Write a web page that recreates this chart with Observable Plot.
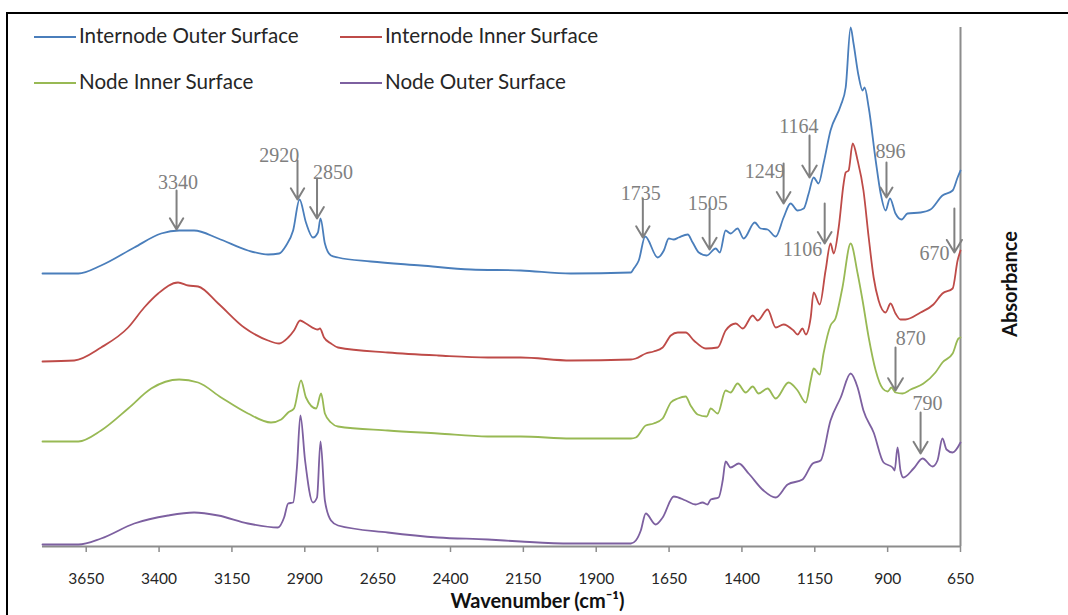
<!DOCTYPE html>
<html>
<head>
<meta charset="utf-8">
<script src="https://cdn.jsdelivr.net/npm/d3@7"></script>
<script src="https://cdn.jsdelivr.net/npm/@observablehq/plot@0.6"></script>
<style>
html, body { margin:0; padding:0; width:1068px; height:615px; overflow:hidden; background:#fff; }
#frame { position:absolute; left:6px; top:12px; width:1200px; height:800px; border:2px solid #000; box-sizing:border-box; }
#chart { position:absolute; left:0; top:0; }
.leg { position:absolute; font-family: Lato, "Open Sans", sans-serif; font-size:20.6px; color:#262626; line-height:22px; white-space:nowrap; }
.leg span.sw { display:inline-block; width:42px; height:2px; vertical-align:middle; margin-right:3px; position:relative; top:-1px; }
</style>
</head>
<body>
<div id="frame"></div>
<div id="chart"></div>
<div id="legend"></div>
<script>
// ---- Data (wavenumber cm^-1, absorbance in arbitrary offset units) ----
const seriesNames = ["Internode Outer Surface", "Internode Inner Surface", "Node Inner Surface", "Node Outer Surface"];
const seriesColors = ["#4A7EBB", "#BE4B48", "#98B954", "#7D60A0"];

const internodeOuter = [[3800,0.546],[3677,0.546],[3599,0.562],[3485,0.598],[3393,0.626],[3331,0.632],[3280,0.632],[3197,0.616],[3095,0.592],[3026,0.584],[2988,0.586],[2964,0.602],[2940,0.632],[2918,0.694],[2896,0.648],[2872,0.618],[2855,0.628],[2846,0.656],[2831,0.606],[2810,0.582],[2786,0.578],[2673,0.570],[2501,0.562],[2330,0.554],[2159,0.552],[1987,0.546],[1781,0.548],[1771,0.556],[1754,0.572],[1732,0.620],[1689,0.578],[1668,0.592],[1651,0.616],[1634,0.614],[1617,0.618],[1586,0.624],[1569,0.608],[1548,0.588],[1521,0.582],[1490,0.596],[1476,0.588],[1456,0.632],[1439,0.626],[1415,0.636],[1394,0.616],[1356,0.648],[1336,0.636],[1312,0.634],[1284,0.620],[1257,0.658],[1233,0.686],[1209,0.672],[1188,0.676],[1171,0.706],[1154,0.738],[1137,0.726],[1120,0.766],[1096,0.832],[1061,0.882],[1044,0.918],[1027,1.038],[1017,1.006],[1000,0.942],[986,0.912],[979,0.918],[965,0.878],[941,0.772],[924,0.706],[907,0.672],[892,0.696],[873,0.666],[852,0.654],[832,0.666],[787,0.668],[753,0.674],[712,0.702],[677,0.712],[660,0.738],[650,0.752]];

const internodeInner = [[3800,0.370],[3691,0.372],[3599,0.398],[3506,0.438],[3451,0.478],[3403,0.506],[3335,0.528],[3300,0.522],[3266,0.520],[3197,0.486],[3108,0.438],[3026,0.412],[2988,0.406],[2957,0.418],[2937,0.432],[2916,0.452],[2896,0.446],[2855,0.434],[2848,0.436],[2834,0.418],[2810,0.406],[2786,0.398],[2615,0.388],[2443,0.382],[2272,0.378],[2159,0.378],[1987,0.372],[1781,0.374],[1764,0.376],[1730,0.386],[1703,0.390],[1672,0.398],[1644,0.422],[1620,0.428],[1593,0.428],[1565,0.412],[1524,0.396],[1483,0.398],[1456,0.432],[1421,0.446],[1397,0.436],[1363,0.462],[1346,0.452],[1312,0.474],[1284,0.438],[1257,0.444],[1223,0.432],[1209,0.424],[1192,0.436],[1181,0.424],[1164,0.458],[1154,0.508],[1133,0.484],[1113,0.552],[1096,0.606],[1085,0.586],[1068,0.638],[1051,0.726],[1044,0.748],[1034,0.752],[1020,0.806],[1003,0.772],[983,0.712],[965,0.618],[948,0.538],[931,0.492],[907,0.468],[890,0.486],[873,0.466],[856,0.454],[839,0.454],[787,0.468],[743,0.484],[712,0.506],[677,0.516],[660,0.572],[650,0.592]];

const nodeInner = [[3800,0.210],[3677,0.210],[3599,0.232],[3506,0.276],[3427,0.316],[3331,0.334],[3266,0.328],[3187,0.298],[3095,0.266],[3016,0.248],[2981,0.254],[2957,0.268],[2937,0.276],[2913,0.332],[2896,0.298],[2861,0.276],[2844,0.306],[2831,0.266],[2810,0.248],[2786,0.240],[2615,0.232],[2443,0.226],[2272,0.220],[2159,0.220],[1987,0.216],[1781,0.216],[1764,0.218],[1730,0.242],[1703,0.246],[1672,0.256],[1644,0.288],[1620,0.296],[1593,0.300],[1576,0.282],[1552,0.264],[1521,0.260],[1507,0.276],[1483,0.266],[1456,0.312],[1439,0.308],[1415,0.326],[1387,0.308],[1363,0.320],[1343,0.306],[1312,0.316],[1284,0.296],[1240,0.328],[1209,0.312],[1181,0.288],[1164,0.332],[1154,0.356],[1133,0.344],[1120,0.386],[1096,0.442],[1079,0.456],[1055,0.518],[1027,0.606],[1003,0.546],[986,0.492],[965,0.418],[941,0.352],[917,0.316],[900,0.310],[887,0.318],[873,0.308],[849,0.306],[821,0.314],[777,0.326],[736,0.348],[712,0.368],[677,0.386],[657,0.416],[650,0.418]];

const nodeOuter = [[3800,0.004],[3677,0.004],[3599,0.016],[3485,0.046],[3369,0.062],[3280,0.068],[3197,0.062],[3095,0.046],[2992,0.038],[2971,0.058],[2957,0.086],[2940,0.088],[2927,0.158],[2915,0.262],[2899,0.172],[2872,0.088],[2858,0.098],[2846,0.210],[2831,0.092],[2810,0.052],[2786,0.042],[2615,0.028],[2443,0.018],[2272,0.014],[2159,0.010],[1987,0.006],[1781,0.006],[1764,0.012],[1747,0.032],[1730,0.066],[1696,0.044],[1672,0.058],[1634,0.100],[1593,0.092],[1559,0.084],[1535,0.088],[1518,0.084],[1507,0.094],[1480,0.098],[1466,0.132],[1456,0.170],[1439,0.158],[1411,0.166],[1377,0.146],[1326,0.112],[1284,0.098],[1243,0.124],[1192,0.134],[1157,0.166],[1130,0.172],[1096,0.252],[1061,0.298],[1027,0.346],[1003,0.318],[983,0.272],[948,0.228],[914,0.168],[883,0.158],[876,0.152],[866,0.198],[856,0.152],[846,0.138],[811,0.156],[780,0.176],[746,0.160],[729,0.172],[712,0.216],[698,0.194],[677,0.188],[650,0.208]];

const xTicks = [3650, 3400, 3150, 2900, 2650, 2400, 2150, 1900, 1650, 1400, 1150, 900, 650];

// Peak annotations: label, arrow wavenumber, arrow start / tip absorbance, label anchor
const annoLabel = ["3340","2920","2850","1735","1505","1249","1164","896","1106","670","870","790"];
const annoW     = [3340, 2925, 2858, 1740, 1511, 1257, 1168, 904, 1116, 671, 873, 787];
const annoTop   = [0.712,0.772,0.736,0.696,0.676,0.766,0.822,0.768,0.686,0.676,0.398,0.268];
const annoTip   = [0.634,0.694,0.656,0.618,0.594,0.686,0.738,0.698,0.606,0.588,0.312,0.186];
const labelW    = [3335, 2988, 2803, 1747, 1517, 1322, 1205, 890, 1192, 739, 821, 763];
const labelA    = [0.728,0.782,0.748,0.706,0.686,0.750,0.840,0.790,0.594,0.586,0.416,0.286];

// ---- Build tables ----
const allSeries = [internodeOuter, internodeInner, nodeInner, nodeOuter];
const rows = allSeries.flatMap((s, i) => s.map(([w, a]) => ({w, a, name: seriesNames[i]})));
const annos = annoLabel.map((t, i) => ({t, w: annoW[i], top: annoTop[i], tip: annoTip[i], lw: labelW[i], la: labelA[i]}));

const gray = "#808080";
const chart = Plot.plot({
  width: 1068,
  height: 615,
  marginLeft: 42,
  marginRight: 108,
  marginTop: 27,
  marginBottom: 69,
  style: {background: "transparent", overflow: "visible"},
  x: {domain: [3800, 650], label: null},
  y: {domain: [0, 1.038], axis: null},
  color: {domain: seriesNames, range: seriesColors},
  marks: [
    Plot.ruleY([0], {stroke: "#8c8c8c", strokeWidth: 2}),
    Plot.ruleX([650], {stroke: "#8c8c8c", strokeWidth: 2}),
    Plot.axisX({ticks: xTicks, tickFormat: d => String(d), tickSize: 6, tickPadding: 20,
      stroke: "#8c8c8c", strokeWidth: 1.5, fill: "#262626", fontSize: 15.5,
      fontFamily: "Lato, sans-serif", label: null}),
    Plot.text(["Wavenumber (cm⁻¹)"], {frameAnchor: "bottom", dy: 61, dx: 36, fontSize: 20, fontWeight: "bold",
      fontFamily: "Lato, sans-serif", fill: "#111", textAnchor: "middle"}),
    Plot.text(["Absorbance"], {frameAnchor: "right", dx: 50, dy: -3, rotate: -90, fontSize: 20, fontWeight: "bold",
      fontFamily: "Lato, sans-serif", fill: "#111", textAnchor: "middle"}),
    Plot.line(rows, {x: "w", y: "a", z: "name", stroke: "name", strokeWidth: 1.8, curve: "monotone-x"}),
    Plot.arrow(annos, {x1: "w", y1: "top", x2: "w", y2: "tip", stroke: gray, strokeWidth: 2, headLength: 11, headAngle: 62}),
    Plot.text(annos, {x: "lw", y: "la", text: "t", fill: gray, fontSize: 20,
      fontFamily: "'Liberation Serif', 'DejaVu Serif', serif"})
  ]
});
document.getElementById("chart").appendChild(chart);

// ---- Legend ----
const legPos = [[34, 24], [340, 24], [34, 70], [340, 70]];
const legend = document.getElementById("legend");
seriesNames.forEach((n, i) => {
  const d = document.createElement("div");
  d.className = "leg";
  d.style.left = legPos[i][0] + "px";
  d.style.top = legPos[i][1] + "px";
  d.innerHTML = `<span class="sw" style="background:${seriesColors[i]}"></span>${n}`;
  legend.appendChild(d);
});
</script>
</body>
</html>
